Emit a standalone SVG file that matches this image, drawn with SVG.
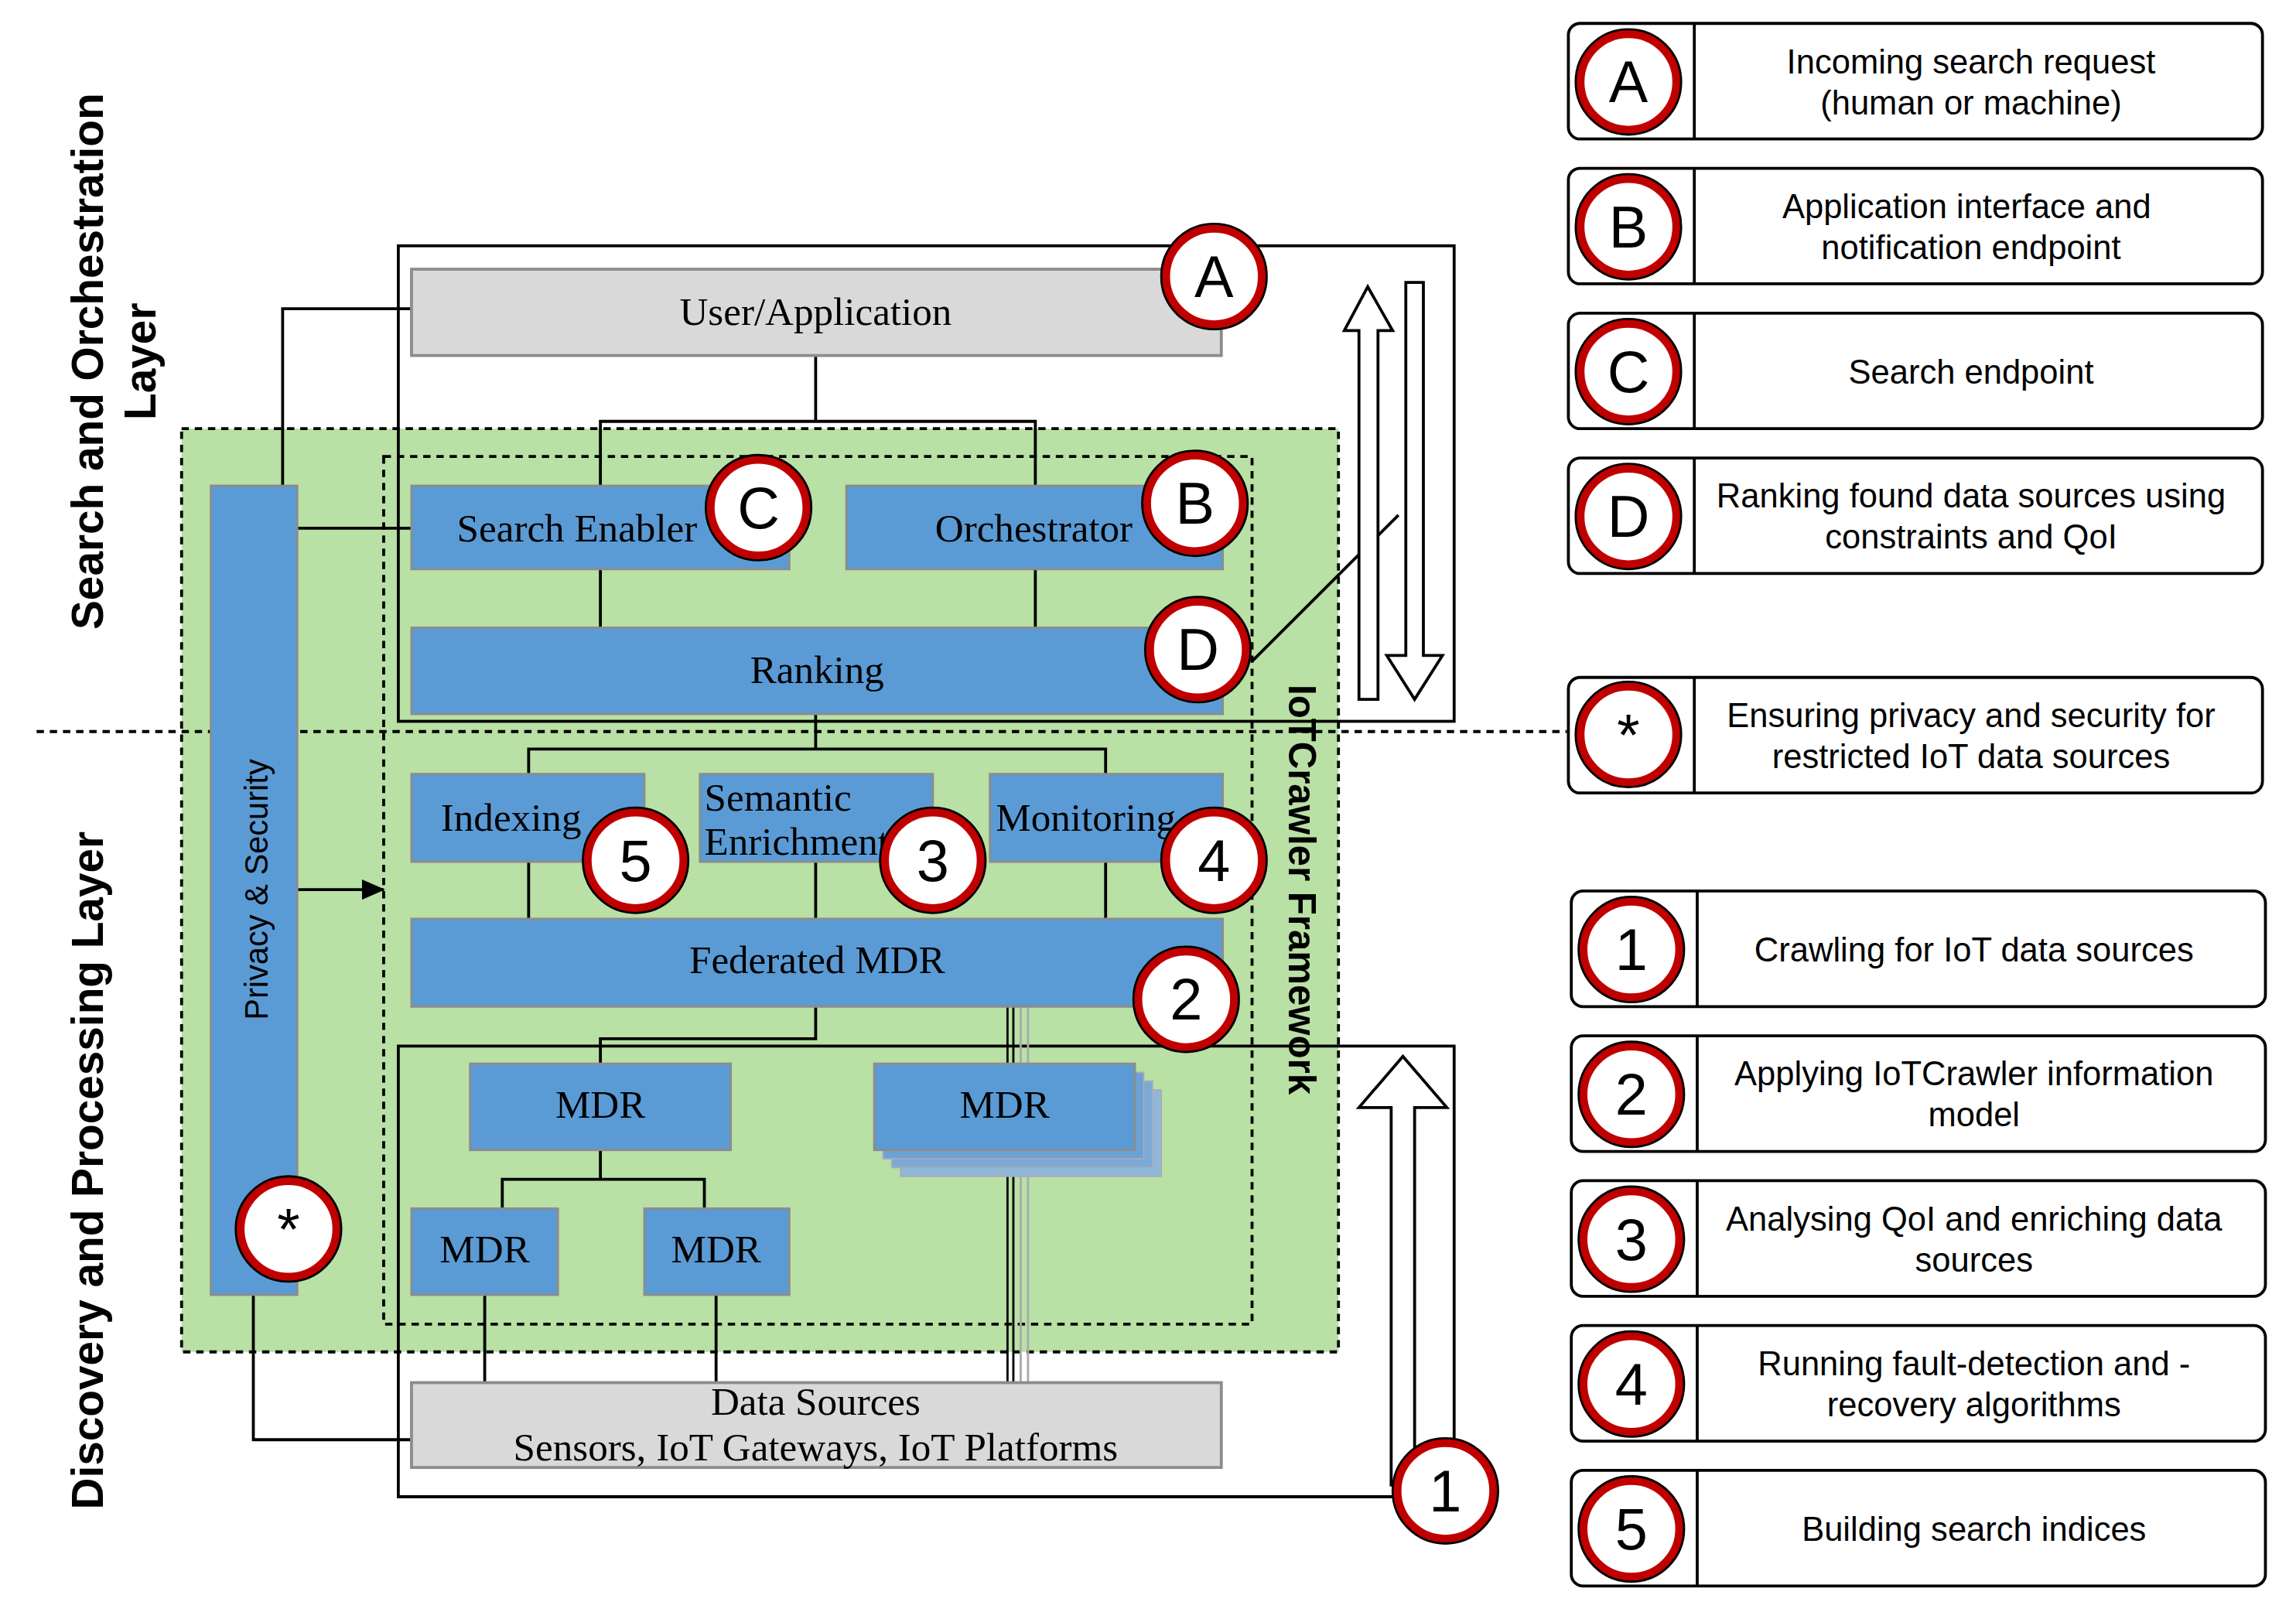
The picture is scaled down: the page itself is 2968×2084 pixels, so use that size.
<svg xmlns="http://www.w3.org/2000/svg" width="2968" height="2084" viewBox="0 0 2968 2084">
<style>
.bl{fill:#5b9bd5;stroke:#8c8c8c;stroke-width:1.5}
.gr{fill:#d9d9d9;stroke:#8c8c8c;stroke-width:2}
.st{font-family:"Liberation Serif",serif;font-size:27px;fill:#000}
.ln{fill:none;stroke:#000;stroke-width:2}
.ss{font-family:"Liberation Sans",sans-serif;fill:#000}
.co{fill:#fff;stroke:#c00000;stroke-width:6}
.cr{fill:none;stroke:#000;stroke-width:1.5}
.ct{font-family:"Liberation Sans",sans-serif;font-size:40px;text-anchor:middle;fill:#000}
.lg{fill:#fff;stroke:#000;stroke-width:2}
.lt{font-family:"Liberation Sans",sans-serif;font-size:23px;text-anchor:middle;fill:#000}
</style>
<defs>
<marker id="ar" markerWidth="16" markerHeight="14" refX="15" refY="7" orient="auto" markerUnits="userSpaceOnUse"><path d="M0,0 L16,7 L0,14 z" fill="#000"/></marker>
<g id="circ"><circle r="33" class="co"/><circle r="36" class="cr"/></g>
</defs>
<rect width="2968" height="2084" fill="#fff"/>
<g transform="scale(1.893 1.8915)">
<g id="frames">
<rect x="124" y="293" width="790" height="631" fill="#b9e0a5" stroke="#000" stroke-width="2" stroke-dasharray="5,4"/>
<rect x="272" y="168" width="721" height="325" class="ln"/>
<rect x="262" y="312" width="593" height="593" fill="none" stroke="#000" stroke-width="2" stroke-dasharray="5,4"/>
<path d="M272,715 H993 V1023 H272 Z" class="ln"/>
<line x1="25" y1="500" x2="1070" y2="500" stroke="#000" stroke-width="2" stroke-dasharray="5,4"/>
</g>
<g id="connectors">
<path class="ln" d="M557,243 V288 M410,332 V288 H707 V332 M410,389 V429 M707,389 V429 M557,488 V512 M361,529 V512 H755 V529 M361,589 V628 M557,589 V628 M755,589 V628 M557,688 V710 H410 V727 M410,786 V806 M343,826 V806 H481 V826 M331,885 V945 M489,885 V945 M193,332 V211 H281 M203,361 H281 M173,885 V984 H281 M855,452 L955,352"/>
<path d="M688,688 V945 M692,688 V945" stroke="#000" stroke-width="1.5" fill="none"/>
<path d="M697,688 V945 M702,688 V945" stroke="#aaa" stroke-width="1.5" fill="none"/>
<line x1="203" y1="608" x2="262" y2="608" stroke="#000" stroke-width="2" marker-end="url(#ar)"/>
<path d="M928,478 V226 H918 L934,196 L951,226 H941 V478 Z" fill="#fff" stroke="#000" stroke-width="2"/>
<path d="M960,193 V448 H947 L966,478 L985,448 H972 V193 Z" fill="#fff" stroke="#000" stroke-width="2"/>
<path d="M950,1015 V757 H928 L958,722 L988,757 H966 V1015 Z" fill="#fff" stroke="#000" stroke-width="2"/>
</g>
<g id="user"><rect x="281" y="184" width="553" height="59" class="gr"/><text x="557" y="222" class="st" text-anchor="middle">User/Application</text></g>
<g id="search"><rect x="281" y="332" width="258" height="57" class="bl"/><text x="312" y="370" class="st">Search Enabler</text></g>
<g id="orch"><rect x="578" y="332" width="257" height="57" class="bl"/><text x="706" y="370" class="st" text-anchor="middle">Orchestrator</text></g>
<g id="ranking"><rect x="281" y="429" width="554" height="59" class="bl"/><text x="558" y="467" class="st" text-anchor="middle">Ranking</text></g>
<g id="indexing"><rect x="281" y="529" width="159" height="60" class="bl"/><text x="301" y="568" class="st">Indexing</text></g>
<g id="semantic"><rect x="478" y="529" width="159" height="60" class="bl"/><text x="481" y="554" class="st" font-size="24">Semantic</text><text x="481" y="584" class="st" font-size="24">Enrichment</text></g>
<g id="monitoring"><rect x="676" y="529" width="159" height="60" class="bl"/><text x="680" y="568" class="st">Monitoring</text></g>
<g id="fedmdr"><rect x="281" y="628" width="554" height="60" class="bl"/><text x="558" y="665" class="st" text-anchor="middle">Federated MDR</text></g>
<g id="mdr1"><rect x="321" y="727" width="178" height="59" class="bl"/><text x="410" y="764" class="st" text-anchor="middle">MDR</text></g>
<g id="mdr2">
<rect x="615" y="745" width="178" height="59" fill="#8fb8d8" stroke="#aab" stroke-width="1"/>
<rect x="609" y="739" width="178" height="59" fill="#7aaad6" stroke="#aab" stroke-width="1"/>
<rect x="603" y="733" width="178" height="59" fill="#6aa2d5" stroke="#aab" stroke-width="1"/>
<rect x="597" y="727" width="178" height="59" class="bl"/><text x="686" y="764" class="st" text-anchor="middle">MDR</text></g>
<g id="mdr3"><rect x="281" y="826" width="100" height="59" class="bl"/><text x="331" y="863" class="st" text-anchor="middle">MDR</text></g>
<g id="mdr4"><rect x="440" y="826" width="99" height="59" class="bl"/><text x="489" y="863" class="st" text-anchor="middle">MDR</text></g>
<g id="datasources"><rect x="281" y="945" width="553" height="58" class="gr"/><text x="557" y="967" class="st" text-anchor="middle">Data Sources</text><text x="557" y="998" class="st" text-anchor="middle">Sensors, IoT Gateways, IoT Platforms</text></g>
<g id="privacy"><rect x="144" y="332" width="59" height="553" class="bl"/><text transform="translate(183,608) rotate(-90)" class="ss" font-size="22" text-anchor="middle">Privacy &amp; Security</text></g>
<g id="labels">
<text transform="translate(880,608) rotate(90)" class="ss" font-size="26" font-weight="bold" text-anchor="middle">IoTCrawler Framework</text>
<text transform="translate(70,247) rotate(-90)" class="ss" font-size="30" font-weight="bold" text-anchor="middle">Search and Orchestration</text>
<text transform="translate(106,247) rotate(-90)" class="ss" font-size="30" font-weight="bold" text-anchor="middle">Layer</text>
<text transform="translate(70,800) rotate(-90)" class="ss" font-size="30" font-weight="bold" text-anchor="middle">Discovery and Processing Layer</text>
</g>
<g id="badges">
<g transform="translate(829,189)"><use href="#circ"/><text y="14" class="ct">A</text></g>
<g transform="translate(518,347)"><use href="#circ"/><text y="14" class="ct">C</text></g>
<g transform="translate(816,344)"><use href="#circ"/><text y="14" class="ct">B</text></g>
<g transform="translate(818,444)"><use href="#circ"/><text y="14" class="ct">D</text></g>
<g transform="translate(434,588)"><use href="#circ"/><text y="14" class="ct">5</text></g>
<g transform="translate(637,588)"><use href="#circ"/><text y="14" class="ct">3</text></g>
<g transform="translate(829,588)"><use href="#circ"/><text y="14" class="ct">4</text></g>
<g transform="translate(810,683)"><use href="#circ"/><text y="14" class="ct">2</text></g>
<g transform="translate(197,840)"><use href="#circ"/><text y="14" class="ct">*</text></g>
<g transform="translate(987,1019)"><use href="#circ"/><text y="14" class="ct">1</text></g>
</g>
<g id="legend">
<g><rect x="1071" y="16" width="474" height="79" rx="8" class="lg"/><line x1="1157" y1="16" x2="1157" y2="95" class="ln"/><g transform="translate(1112,56)"><use href="#circ"/><text y="14" class="ct">A</text></g><text x="1346" y="50" class="lt">Incoming search request</text><text x="1346" y="78" class="lt">(human or machine)</text></g>
<g><rect x="1071" y="115" width="474" height="79" rx="8" class="lg"/><line x1="1157" y1="115" x2="1157" y2="194" class="ln"/><g transform="translate(1112,155)"><use href="#circ"/><text y="14" class="ct">B</text></g><text x="1343" y="149" class="lt">Application interface and</text><text x="1346" y="177" class="lt">notification endpoint</text></g>
<g><rect x="1071" y="214" width="474" height="79" rx="8" class="lg"/><line x1="1157" y1="214" x2="1157" y2="293" class="ln"/><g transform="translate(1112,254)"><use href="#circ"/><text y="14" class="ct">C</text></g><text x="1346" y="262" class="lt">Search endpoint</text></g>
<g><rect x="1071" y="313" width="474" height="79" rx="8" class="lg"/><line x1="1157" y1="313" x2="1157" y2="392" class="ln"/><g transform="translate(1112,353)"><use href="#circ"/><text y="14" class="ct">D</text></g><text x="1346" y="347" class="lt">Ranking found data sources using</text><text x="1346" y="375" class="lt">constraints and QoI</text></g>
<g><rect x="1071" y="463" width="474" height="79" rx="8" class="lg"/><line x1="1157" y1="463" x2="1157" y2="542" class="ln"/><g transform="translate(1112,502)"><use href="#circ"/><text y="14" class="ct">*</text></g><text x="1346" y="497" class="lt">Ensuring privacy and security for</text><text x="1346" y="525" class="lt">restricted IoT data sources</text></g>
<g><rect x="1073" y="609" width="474" height="79" rx="8" class="lg"/><line x1="1159" y1="609" x2="1159" y2="688" class="ln"/><g transform="translate(1114,649)"><use href="#circ"/><text y="14" class="ct">1</text></g><text x="1348" y="657" class="lt">Crawling for IoT data sources</text></g>
<g><rect x="1073" y="708" width="474" height="79" rx="8" class="lg"/><line x1="1159" y1="708" x2="1159" y2="787" class="ln"/><g transform="translate(1114,748)"><use href="#circ"/><text y="14" class="ct">2</text></g><text x="1348" y="742" class="lt">Applying IoTCrawler information</text><text x="1348" y="770" class="lt">model</text></g>
<g><rect x="1073" y="807" width="474" height="79" rx="8" class="lg"/><line x1="1159" y1="807" x2="1159" y2="886" class="ln"/><g transform="translate(1114,847)"><use href="#circ"/><text y="14" class="ct">3</text></g><text x="1348" y="841" class="lt">Analysing QoI and enriching data</text><text x="1348" y="869" class="lt">sources</text></g>
<g><rect x="1073" y="906" width="474" height="79" rx="8" class="lg"/><line x1="1159" y1="906" x2="1159" y2="985" class="ln"/><g transform="translate(1114,946)"><use href="#circ"/><text y="14" class="ct">4</text></g><text x="1348" y="940" class="lt">Running fault-detection and -</text><text x="1348" y="968" class="lt">recovery algorithms</text></g>
<g><rect x="1073" y="1005" width="474" height="79" rx="8" class="lg"/><line x1="1159" y1="1005" x2="1159" y2="1084" class="ln"/><g transform="translate(1114,1045)"><use href="#circ"/><text y="14" class="ct">5</text></g><text x="1348" y="1053" class="lt">Building search indices</text></g>
</g>
</g>
</svg>
